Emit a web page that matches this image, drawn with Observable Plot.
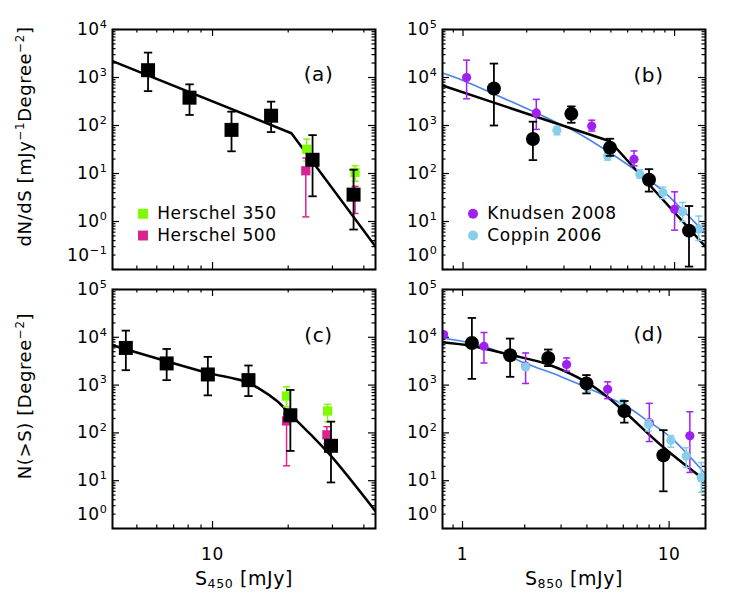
<!DOCTYPE html>
<html><head><meta charset="utf-8">
<script src="https://cdn.jsdelivr.net/npm/d3@7"></script>
<script src="https://cdn.jsdelivr.net/npm/@observablehq/plot@0.6"></script>
<style>
body{margin:0;background:#fff;}
#chart{position:relative;width:750px;height:600px;}
#chart svg{position:absolute;left:0;top:0;overflow:visible;}
#chart text{letter-spacing:0.6px;}
</style></head><body><div id="chart"></div>
<script>
// ---------------- DATA ----------------
// Panel (a): dN/dS at 450 um
const aBlack = [
  {s:5.54, n:1420, lo:520, hi:3300},
  {s:8.1, n:380, lo:166, hi:720},
  {s:11.9, n:81, lo:29, hi:194},
  {s:17.1, n:160, lo:73, hi:314},
  {s:25.0, n:19.3, lo:3.35, hi:63},
  {s:36.4, n:3.63, lo:0.68, hi:12}
];
const aH350 = [
  {s:23.7, n:32, lo:18, hi:52},
  {s:36.9, n:10.5, lo:6.9, hi:14.5}
];
const aH500 = [
  {s:23.5, n:11.4, lo:1.25, hi:21},
  {s:36.9, n:3.5, lo:1.47, hi:5.4}
];
const aModel = [
  {s:4.0, n:2190}, {s:20.6, n:69}, {s:44.5, n:0.3}
];
// Panel (b): dN/dS at 850 um
const bBlack = [
  {s:1.40, n:5900, lo:1000, hi:19500},
  {s:2.14, n:525, lo:190, hi:1200},
  {s:3.25, n:1750, lo:1140, hi:2500},
  {s:4.95, n:345, lo:233, hi:530},
  {s:7.57, n:74, lo:42, hi:123},
  {s:11.7, n:6.45, lo:1.15, hi:21}
];
const bKnudsen = [
  {s:1.04, n:10000, lo:3600, hi:23000},
  {s:2.22, n:1830, lo:830, hi:3500},
  {s:4.06, n:975, lo:765, hi:1290},
  {s:6.43, n:198, lo:144, hi:295},
  {s:10.0, n:18, lo:6.6, hi:41.5}
];
const bCoppin = [
  {s:2.78, n:800, lo:640, hi:950},
  {s:4.83, n:232, lo:190, hi:280},
  {s:6.85, n:97, lo:80, hi:120},
  {s:8.8, n:40, lo:30, hi:52},
  {s:10.9, n:16, lo:10, hi:25},
  {s:13.0, n:7, lo:4, hi:13}
];
const bModel = [
  {s:0.8, n:6800}, {s:4.95, n:470}, {s:14, n:3.0}
];
const bCoppinFit = [
  {s:0.8, n:12400}, {s:1.0, n:8700}, {s:1.5, n:3980}, {s:2.22, n:1835},
  {s:2.78, n:1140}, {s:3.21, n:855}, {s:4.95, n:270}, {s:6.6, n:113},
  {s:8.8, n:43.5}, {s:14, n:5.6}
];
// Panel (c): N(>S) at 450 um
const cBlack = [
  {s:4.52, n:5990, lo:2050, hi:13800},
  {s:6.57, n:2840, lo:1270, hi:5700},
  {s:9.58, n:1670, lo:610, hi:3900},
  {s:13.9, n:1270, lo:590, hi:2570},
  {s:20.4, n:234, lo:42, hi:790},
  {s:29.6, n:53.7, lo:9.2, hi:172}
];
const cH350 = [
  {s:19.7, n:590, lo:350, hi:920},
  {s:28.7, n:287, lo:170, hi:395}
];
const cH500 = [
  {s:19.7, n:178, lo:20.5, hi:250},
  {s:28.5, n:91, lo:60, hi:135}
];
const cModel = [
  {s:4.0, n:6800}, {s:6.57, n:3160}, {s:9.58, n:1800}, {s:13.3, n:1210},
  {s:15.5, n:815}, {s:18.05, n:464}, {s:20.4, n:245}, {s:24.5, n:94},
  {s:29.6, n:33}, {s:44.5, n:2.3}
];
// Panel (d): N(>S) at 850 um
const dBlack = [
  {s:1.11, n:7600, lo:1350, hi:25400},
  {s:1.70, n:4220, lo:1490, hi:9400},
  {s:2.6, n:3700, lo:2500, hi:5550},
  {s:3.98, n:1085, lo:670, hi:1620},
  {s:6.07, n:287, lo:164, hi:465},
  {s:9.38, n:34, lo:6.0, hi:114}
];
const dKnudsen = [
  {s:0.81, n:11400, lo:null, hi:null},
  {s:1.27, n:6500, lo:2900, hi:12600},
  {s:2.02, n:2500, lo:1080, hi:4700},
  {s:3.19, n:2700, lo:1960, hi:3700},
  {s:5.04, n:815, lo:520, hi:1170},
  {s:8.02, n:164, lo:66, hi:415},
  {s:12.6, n:87, lo:14.9, hi:277}
];
const dCoppin = [
  {s:2.02, n:2400, lo:2100, hi:2800},
  {s:4.03, n:875, lo:760, hi:1000},
  {s:5.96, n:420, lo:380, hi:470},
  {s:7.95, n:150, lo:110, hi:190},
  {s:10.2, n:70, lo:50, hi:88},
  {s:12.1, n:33, lo:19, hi:49},
  {s:14.3, n:11.7, lo:5.7, hi:24}
];
const dModel = [
  {s:0.8, n:7900}, {s:1.11, n:6600}, {s:1.7, n:4300}, {s:2.6, n:2700},
  {s:3.98, n:1150}, {s:4.94, n:600}, {s:6.07, n:280}, {s:9.38, n:50}, {s:15, n:10}
];
const dCoppinFit = [
  {s:0.8, n:9700}, {s:1.1, n:7600}, {s:1.4, n:5600}, {s:2.0, n:2900},
  {s:3.0, n:1500}, {s:4.03, n:875}, {s:6.18, n:365}, {s:7.88, n:178},
  {s:10.2, n:80}, {s:15, n:13.8}
];

// Ticks and labels
const x450Major = [10];
const x450Labels = ["10"];
const x450Minor = [5, 6, 7, 8, 9, 20, 30, 40];
const x850Major = [1, 10];
const x850Labels = ["1", "10"];
const x850Minor = [0.9, 2, 3, 4, 5, 6, 7, 8, 9];
const aYMajor = [0.1, 1, 10, 100, 1000, 10000];
const aYLabels = ["10^{−1}", "10^{0}", "10^{1}", "10^{2}", "10^{3}", "10^{4}"];
const yMajor5 = [1, 10, 100, 1000, 10000, 100000];
const yLabels5 = ["10^{0}", "10^{1}", "10^{2}", "10^{3}", "10^{4}", "10^{5}"];
const minorDigits = [2, 3, 4, 5, 6, 7, 8, 9];

const titleA = "(a)", titleB = "(b)", titleC = "(c)", titleD = "(d)";
const yTitleTop = "dN/dS [mJy^{−1}Degree^{−2}]";
const yTitleBottom = "N(>S) [Degree^{−2}]";
const xTitle450 = "S_{450} [mJy]";
const xTitle850 = "S_{850} [mJy]";
const legendA = ["Herschel 350", "Herschel 500"];
const legendB = ["Knudsen 2008", "Coppin 2006"];

// ---------------- STYLE ----------------
const GREEN = "#7cfc00", MAGENTA = "#d9238f", PURPLE = "#a020f0", SKY = "#87ceeb", BLUE = "#4a82e6";
const FONT = "DejaVu Sans";
const MID = {textAnchor: "middle", lineAnchor: "middle"};

const capSymbol = {draw(ctx, size) { const w = Math.sqrt(size / Math.PI); ctx.moveTo(-w, 0); ctx.lineTo(w, 0); }};

function series(data, {color, symbol, r, cap, sw}) {
  const e = data.filter(d => d.lo != null);
  return [
    Plot.ruleX(e, {x: "s", y1: "lo", y2: "hi", stroke: color, strokeWidth: sw, clip: true}),
    Plot.dot(e, {x: "s", y: "lo", symbol: capSymbol, r: cap, stroke: color, fill: "none", strokeWidth: sw, clip: true}),
    Plot.dot(e, {x: "s", y: "hi", symbol: capSymbol, r: cap, stroke: color, fill: "none", strokeWidth: sw, clip: true}),
    Plot.dot(data, {x: "s", y: "n", symbol, r, fill: color, stroke: "none", clip: true})
  ];
}

function minorOf(majors, domain) {
  const out = [];
  for (const m of majors) for (const k of minorDigits) { const v = m * k; if (v > domain[0] && v < domain[1]) out.push(v); }
  return out;
}

function ticks(xMaj, xMin, yMaj, yMin, W, H) {
  const M = 7, m = 3.5, sw = 1.2;
  return [
    Plot.tickX(xMaj, {x: d => d, insetTop: H - M, strokeWidth: sw}),
    Plot.tickX(xMaj, {x: d => d, insetBottom: H - M, strokeWidth: sw}),
    Plot.tickX(xMin, {x: d => d, insetTop: H - m, strokeWidth: sw}),
    Plot.tickX(xMin, {x: d => d, insetBottom: H - m, strokeWidth: sw}),
    Plot.tickY(yMaj, {y: d => d, insetRight: W - M, strokeWidth: sw}),
    Plot.tickY(yMaj, {y: d => d, insetLeft: W - M, strokeWidth: sw}),
    Plot.tickY(yMin, {y: d => d, insetRight: W - m, strokeWidth: sw}),
    Plot.tickY(yMin, {y: d => d, insetLeft: W - m, strokeWidth: sw})
  ];
}

function yLabelMarks(vals, labels) {
  return [
    Plot.text(vals.slice(1), {y: d => d, text: (d, i) => labels[i + 1], frameAnchor: "left", textAnchor: "end", lineAnchor: "middle", dx: -5, fontSize: 17}),
    Plot.text(vals.slice(0, 1), {y: d => d, text: () => labels[0], frameAnchor: "left", textAnchor: "end", lineAnchor: "middle", dx: -5, dy: -14, fontSize: 17})
  ];
}

function panel({left, top, W, H, xDomain, yDomain, marks}) {
  return Plot.plot({
    width: 750, height: 600,
    marginLeft: left, marginTop: top, marginRight: 750 - left - W, marginBottom: 600 - top - H,
    x: {type: "log", domain: xDomain, axis: null},
    y: {type: "log", domain: yDomain, axis: null},
    style: {fontFamily: FONT, fontSize: "17px", background: "transparent", color: "black"},
    marks: [...marks, Plot.frame({stroke: "black", strokeWidth: 2})]
  });
}

function legend(labels, colors, symbol, r) {
  return labels.flatMap((lab, i) => [
    Plot.dot([lab], {frameAnchor: "top-left", dx: 30.5, dy: 184.3 + 21.7 * i, symbol, r, fill: colors[i]}),
    Plot.text([lab], {text: d => d, frameAnchor: "top-left", dx: 44.7, dy: 184.3 + 21.7 * i, textAnchor: "start", lineAnchor: "middle", fontSize: 17})
  ]);
}

const W1 = 263, H1 = 240, W2 = 263, H2 = 239;
const sq = "square";

// Panel (a)
const xA = [4, 44.5], yA = [0.1, 10000];
const pa = panel({left: 112, top: 29, W: W1, H: H1, xDomain: xA, yDomain: yA, marks: [
  ...ticks(x450Major, x450Minor, aYMajor, minorOf(aYMajor, yA), W1, H1),
  Plot.line(aModel, {x: "s", y: "n", stroke: "black", strokeWidth: 2.5, clip: true}),
  ...series(aH350, {color: GREEN, symbol: sq, r: 5.2, cap: 3.5, sw: 1.5}),
  ...series(aH500, {color: MAGENTA, symbol: sq, r: 5.2, cap: 3.5, sw: 1.5}),
  ...series(aBlack, {color: "black", symbol: sq, r: 7.9, cap: 4.2, sw: 1.8}),
  ...yLabelMarks(aYMajor, aYLabels),
  Plot.text([titleA], {text: d => d, frameAnchor: "top-left", dx: 206, dy: 45, fontSize: 20, ...MID}),
  ...legend(legendA, [GREEN, MAGENTA], sq, 5.6),
  Plot.text([yTitleTop], {text: d => d, frameAnchor: "left", rotate: -90, dx: -87, dy: -13, fontSize: 18, ...MID})
]});

// Panel (b)
const xB = [0.8, 14], yB = [1, 100000];
const pb = panel({left: 442, top: 29, W: W2, H: H1, xDomain: xB, yDomain: yB, marks: [
  ...ticks(x850Major, x850Minor, yMajor5, minorOf(yMajor5, yB), W2, H1),
  Plot.line(bCoppinFit, {x: "s", y: "n", stroke: BLUE, strokeWidth: 1.6, curve: "catmull-rom", clip: true}),
  Plot.line(bModel, {x: "s", y: "n", stroke: "black", strokeWidth: 2.5, clip: true}),
  ...series(bKnudsen, {color: PURPLE, symbol: "circle", r: 4.6, cap: 3.5, sw: 1.5}),
  ...series(bCoppin, {color: SKY, symbol: "circle", r: 4.6, cap: 3.5, sw: 1.5}),
  ...series(bBlack, {color: "black", symbol: "circle", r: 7, cap: 4.2, sw: 1.8}),
  ...yLabelMarks(yMajor5, yLabels5),
  Plot.text([titleB], {text: d => d, frameAnchor: "top-left", dx: 206, dy: 46, fontSize: 20, ...MID}),
  ...legend(legendB, [PURPLE, SKY], "circle", 5)
]});

// Panel (c)
const xC = [4, 44.5], yC = [1, 100000];
const pc = panel({left: 112, top: 289, W: W1, H: H2, xDomain: xC, yDomain: yC, marks: [
  ...ticks(x450Major, x450Minor, yMajor5, minorOf(yMajor5, yC), W1, H2),
  Plot.line(cModel, {x: "s", y: "n", stroke: "black", strokeWidth: 2.5, curve: "catmull-rom", clip: true}),
  ...series(cH350, {color: GREEN, symbol: sq, r: 5.2, cap: 3.5, sw: 1.5}),
  ...series(cH500, {color: MAGENTA, symbol: sq, r: 5.2, cap: 3.5, sw: 1.5}),
  ...series(cBlack, {color: "black", symbol: sq, r: 7.9, cap: 4.2, sw: 1.8}),
  ...yLabelMarks(yMajor5, yLabels5),
  Plot.text(x450Major, {x: d => d, text: (d, i) => x450Labels[i], frameAnchor: "bottom", dy: 26, fontSize: 17, ...MID}),
  Plot.text([titleC], {text: d => d, frameAnchor: "top-left", dx: 206, dy: 46, fontSize: 20, ...MID}),
  Plot.text([xTitle450], {text: d => d, frameAnchor: "bottom", dy: 50, fontSize: 19, ...MID}),
  Plot.text([yTitleBottom], {text: d => d, frameAnchor: "left", rotate: -90, dx: -87, dy: -13, fontSize: 18, ...MID})
]});

// Panel (d)
const xD = [0.8, 15], yD = [1, 100000];
const pd = panel({left: 442, top: 289, W: W2, H: H2, xDomain: xD, yDomain: yD, marks: [
  ...ticks(x850Major, x850Minor, yMajor5, minorOf(yMajor5, yD), W2, H2),
  Plot.line(dCoppinFit, {x: "s", y: "n", stroke: BLUE, strokeWidth: 1.6, curve: "catmull-rom", clip: true}),
  Plot.line(dModel, {x: "s", y: "n", stroke: "black", strokeWidth: 2.5, curve: "catmull-rom", clip: true}),
  ...series(dKnudsen, {color: PURPLE, symbol: "circle", r: 4.6, cap: 3.5, sw: 1.5}),
  ...series(dCoppin, {color: SKY, symbol: "circle", r: 4.6, cap: 3.5, sw: 1.5}),
  ...series(dBlack, {color: "black", symbol: "circle", r: 7, cap: 4.2, sw: 1.8}),
  ...yLabelMarks(yMajor5, yLabels5),
  Plot.text(x850Major, {x: d => d, text: (d, i) => x850Labels[i], frameAnchor: "bottom", dy: 26, fontSize: 17, ...MID}),
  Plot.text([titleD], {text: d => d, frameAnchor: "top-left", dx: 206, dy: 45, fontSize: 20, ...MID}),
  Plot.text([xTitle850], {text: d => d, frameAnchor: "bottom", dy: 50, fontSize: 19, ...MID})
]});

const chart = document.getElementById("chart");
for (const p of [pa, pb, pc, pd]) chart.appendChild(p);

// Rich text: ^{...} superscripts and _{...} subscripts as tspans
function richify(el) {
  const s = el.textContent;
  if (!/[\^_]\{/.test(s)) return;
  const fs = parseFloat(getComputedStyle(el).fontSize) || 17;
  el.textContent = "";
  const re = /([\^_])\{([^}]*)\}/g;
  let last = 0, m, shift = 0;
  const add = (str, kind) => {
    const t = document.createElementNS("http://www.w3.org/2000/svg", "tspan");
    t.textContent = str;
    const target = kind === "^" ? -0.42 * fs : kind === "_" ? 0.2 * fs : 0;
    if (target !== shift) t.setAttribute("dy", target - shift);
    shift = target;
    if (kind) t.setAttribute("font-size", (0.66 * fs).toFixed(2));
    el.appendChild(t);
  };
  while ((m = re.exec(s))) {
    if (m.index > last) add(s.slice(last, m.index), null);
    add(m[2], m[1]);
    last = re.lastIndex;
  }
  if (last < s.length) add(s.slice(last), null);
}
chart.querySelectorAll("text").forEach(richify);
</script>
</body></html>
